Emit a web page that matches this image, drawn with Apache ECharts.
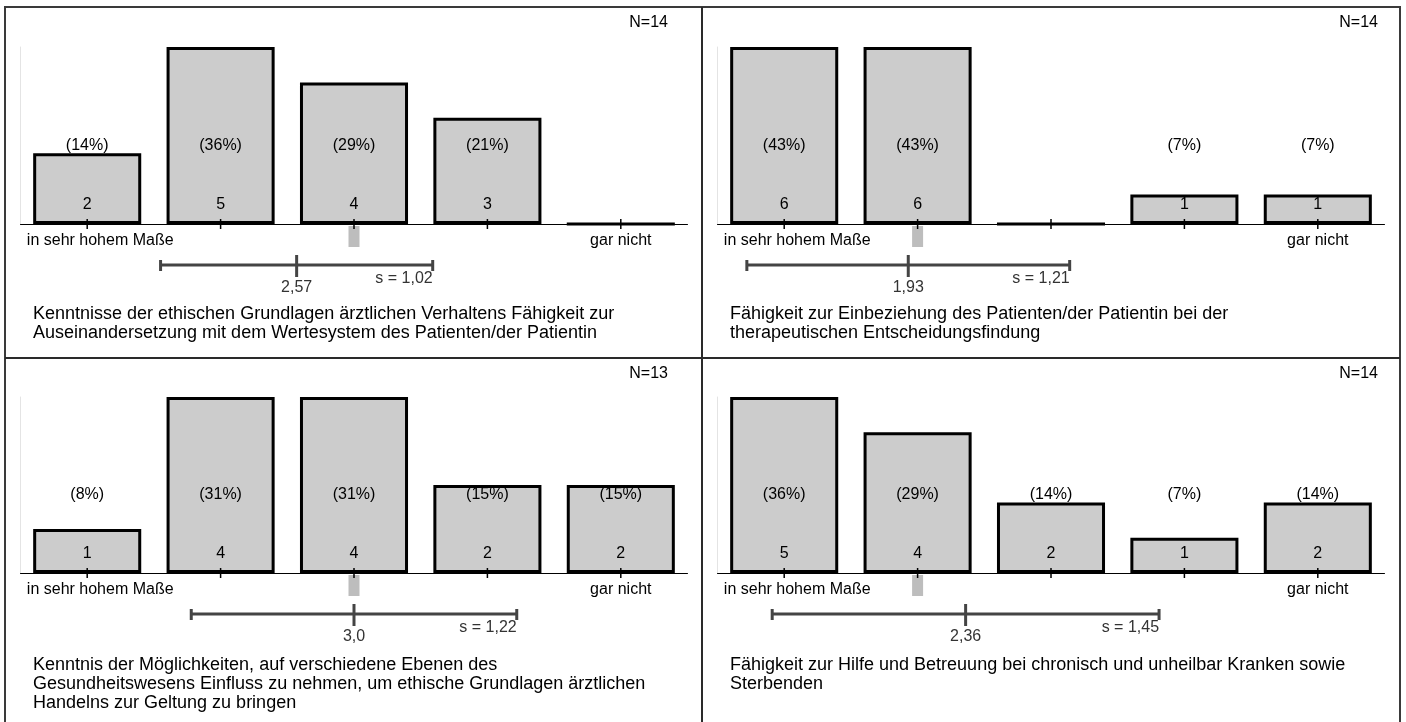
<!DOCTYPE html>
<html><head><meta charset="utf-8">
<script src="https://cdn.jsdelivr.net/npm/echarts@6/dist/echarts.min.js"></script>
<style>html,body{margin:0;padding:0;background:#fff}#c{width:1406px;height:722px}</style>
</head><body><div id="c"></div><script>
// ---- data ----
const scalePositions = [1, 2, 3, 4, 5];
const tickLabels = ['in sehr hohem Maße', '', '', '', 'gar nicht'];
const counts1 = [2, 5, 4, 3, 0];
const counts2 = [6, 6, 0, 1, 1];
const counts3 = [1, 4, 4, 2, 2];
const counts4 = [5, 4, 2, 1, 2];
const percents1 = [14, 36, 29, 21, 0];
const percents2 = [43, 43, 0, 7, 7];
const percents3 = [8, 31, 31, 15, 15];
const percents4 = [36, 29, 14, 7, 14];
const sampleSizes = [14, 14, 13, 14];
const means = [2.57, 1.93, 3.0, 2.36];
const meanLabels = ['2,57', '1,93', '3,0', '2,36'];
const sds = [1.02, 1.21, 1.22, 1.45];
const sdLabels = ['s = 1,02', 's = 1,21', 's = 1,22', 's = 1,45'];
const medians = [3, 2, 3, 2];
const descriptions = [
  'Kenntnisse der ethischen Grundlagen ärztlichen Verhaltens Fähigkeit zur\nAuseinandersetzung mit dem Wertesystem des Patienten/der Patientin',
  'Fähigkeit zur Einbeziehung des Patienten/der Patientin bei der\ntherapeutischen Entscheidungsfindung',
  'Kenntnis der Möglichkeiten, auf verschiedene Ebenen des\nGesundheitswesens Einfluss zu nehmen, um ethische Grundlagen ärztlichen\nHandelns zur Geltung zu bringen',
  'Fähigkeit zur Hilfe und Betreuung bei chronisch und unheilbar Kranken sowie\nSterbenden'
];

const countsAll = [counts1, counts2, counts3, counts4];
const percentsAll = [percents1, percents2, percents3, percents4];

// ---- layout ----
const FONT = '"Liberation Sans", Arial, sans-serif';
const panels = [
  {x: 5, y: 7, gridTop: 47, gridH: 177, nRight: 668},
  {x: 702, y: 7, gridTop: 47, gridH: 177, nRight: 1378},
  {x: 5, y: 358, gridTop: 397, gridH: 176, nRight: 668},
  {x: 702, y: 358, gridTop: 397, gridH: 176, nRight: 1378}
];
const GRID_W = 667;

const grid = [], xAxis = [], yAxis = [], series = [], graphic = [];

panels.forEach((p, i) => {
  const counts = countsAll[i], percents = percentsAll[i];
  grid.push({left: p.x + 15.5, top: p.gridTop, width: GRID_W, height: p.gridH});
  xAxis.push({
    type: 'category', gridIndex: i,
    data: scalePositions.map((v, k) => k === 0 ? {value: String(v), textStyle: {padding: [0, 0, 0, 26]}} : String(v)),
    axisLine: {show: true, lineStyle: {color: '#000', width: 1}},
    axisTick: {show: false},
    axisLabel: {interval: 0, margin: 9, fontSize: 16, fontFamily: FONT, color: '#000',
      formatter: (v, idx) => tickLabels[idx]}
  });
  xAxis.push({type: 'value', gridIndex: i, min: 0.5, max: 5.5, show: false});
  yAxis.push({
    type: 'value', gridIndex: i, min: 0, max: Math.max(...counts),
    axisLine: {show: true, lineStyle: {color: '#e4e4e4', width: 1}},
    axisTick: {show: false}, axisLabel: {show: false}, splitLine: {show: false}
  });
  const cx = 2 * i, vx = 2 * i + 1;
  series.push({
    type: 'bar', xAxisIndex: cx, yAxisIndex: i, data: counts, barWidth: '81%',
    itemStyle: {color: '#cccccc', borderColor: '#000', borderWidth: 3},
    label: {show: true, position: 'insideBottom', distance: 11, fontSize: 16, fontFamily: FONT, color: '#000',
      formatter: q => q.value > 0 ? String(q.value) : ''},
    emphasis: {disabled: true}, silent: true, z: 2
  });
  // percentage labels
  series.push({
    type: 'custom', xAxisIndex: vx, yAxisIndex: i, z: 4, silent: true,
    data: scalePositions.map((v, k) => [v, percents[k], counts[k]]),
    renderItem: (params, api) => {
      if (api.value(2) <= 0) return null;
      const pt = api.coord([api.value(0), 0]);
      return {type: 'text', x: pt[0], y: pt[1] - 78,
        style: {text: '(' + api.value(1) + '%)', align: 'center', verticalAlign: 'middle',
          fontSize: 16, fontFamily: FONT, fill: '#000'}};
    }
  });
  // axis ticks crossing the baseline
  series.push({
    type: 'custom', xAxisIndex: vx, yAxisIndex: i, z: 5, silent: true,
    data: scalePositions.map(v => [v]),
    renderItem: (params, api) => {
      const pt = api.coord([api.value(0), 0]);
      return {type: 'line', shape: {x1: pt[0], y1: pt[1] - 5, x2: pt[0], y2: pt[1] + 5},
        style: {stroke: '#000', lineWidth: 1.5}};
    }
  });
  // median marker
  series.push({
    type: 'custom', xAxisIndex: vx, yAxisIndex: i, z: 4, silent: true,
    data: [[medians[i]]],
    renderItem: (params, api) => {
      const pt = api.coord([api.value(0), 0]);
      return {type: 'rect', shape: {x: pt[0] - 5.5, y: pt[1] + 2, width: 11, height: 21},
        style: {fill: '#bdbdbd'}};
    }
  });
  // mean +/- sd
  series.push({
    type: 'custom', xAxisIndex: vx, yAxisIndex: i, z: 4, silent: true,
    data: [[means[i], sds[i]]],
    renderItem: (params, api) => {
      const m = api.value(0), s = api.value(1);
      const pm = api.coord([m, 0]);
      const pl = api.coord([m - s, 0]);
      const pr = api.coord([m + s, 0]);
      const y0 = pm[1] + 41;
      const st = {stroke: '#444', lineWidth: 3};
      return {type: 'group', children: [
        {type: 'line', shape: {x1: pl[0], y1: y0, x2: pr[0], y2: y0}, style: st},
        {type: 'line', shape: {x1: pl[0], y1: y0 - 5, x2: pl[0], y2: y0 + 6}, style: st},
        {type: 'line', shape: {x1: pr[0], y1: y0 - 5, x2: pr[0], y2: y0 + 6}, style: st},
        {type: 'line', shape: {x1: pm[0], y1: y0 - 10, x2: pm[0], y2: y0 + 12}, style: st},
        {type: 'text', x: pm[0], y: y0 + 23, style: {text: meanLabels[i], align: 'center', verticalAlign: 'middle',
          fontSize: 16, fontFamily: FONT, fill: '#333'}},
        {type: 'text', x: pr[0], y: y0 + 14, style: {text: sdLabels[i], align: 'right', verticalAlign: 'middle',
          fontSize: 16, fontFamily: FONT, fill: '#333'}}
      ]};
    }
  });
  graphic.push({type: 'text', x: p.nRight, y: p.y + 16, silent: true,
    style: {text: 'N=' + sampleSizes[i], align: 'right', verticalAlign: 'middle', fontSize: 16, fontFamily: FONT, fill: '#000'}});
  graphic.push({type: 'text', x: p.x + 28, y: p.y + 298, silent: true,
    style: {text: descriptions[i], align: 'left', verticalAlign: 'top', fontSize: 18, lineHeight: 19, fontFamily: FONT, fill: '#000'}});
});

// frame
graphic.push({type: 'rect', silent: true, shape: {x: 5, y: 7, width: 1395, height: 730}, style: {fill: 'none', stroke: '#3a3a3a', lineWidth: 2}});
graphic.push({type: 'line', silent: true, shape: {x1: 702, y1: 7, x2: 702, y2: 740}, style: {stroke: '#2a2a2a', lineWidth: 2}});
graphic.push({type: 'line', silent: true, shape: {x1: 5, y1: 358, x2: 1400, y2: 358}, style: {stroke: '#2a2a2a', lineWidth: 2}});

const chart = echarts.init(document.getElementById('c'), null, {renderer: 'canvas'});
chart.setOption({animation: false, backgroundColor: '#fff', grid, xAxis, yAxis, series, graphic});
</script></body></html>
